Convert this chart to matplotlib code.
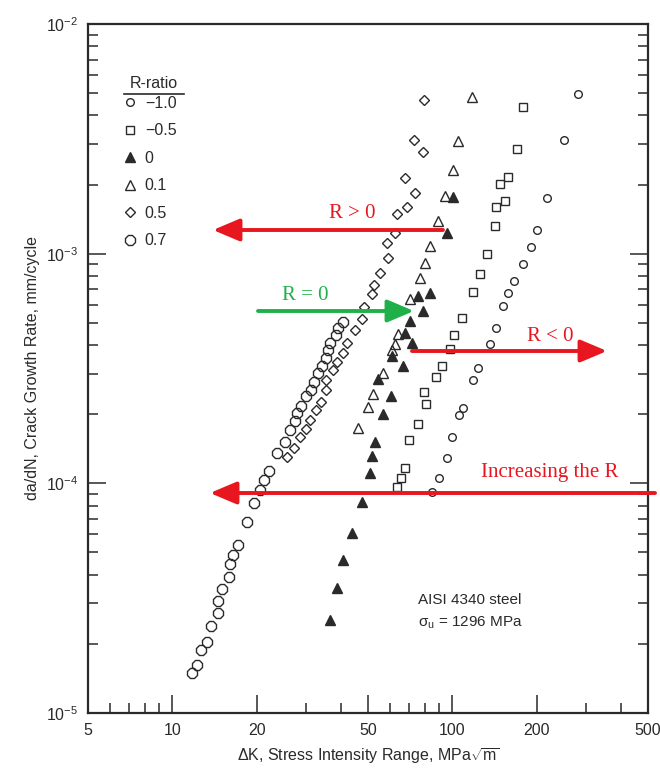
import matplotlib
matplotlib.use("Agg")
import matplotlib.pyplot as plt
from matplotlib.lines import Line2D
from matplotlib.ticker import LogLocator, FixedLocator, FixedFormatter, NullFormatter

plt.rcParams['font.family'] = ['Liberation Sans', 'DejaVu Sans']
plt.rcParams['mathtext.fontset'] = 'custom'
plt.rcParams['mathtext.rm'] = 'Liberation Sans'
plt.rcParams['mathtext.it'] = 'Liberation Sans:italic'

# R = -1.0 (small circles)
dk_m10 = [84.8, 89.9, 96.0, 100.0, 105.9, 109.5, 118.9, 123.8, 136.7, 143.6, 152.1,
          158.5, 166.5, 179.3, 191.5, 201.2, 218.4, 251.2, 281.8]
da_m10 = [9.14e-5, 1.06e-4, 1.29e-4, 1.59e-4, 1.98e-4, 2.12e-4, 2.81e-4, 3.19e-4, 4.06e-4,
          4.77e-4, 5.94e-4, 6.77e-4, 7.63e-4, 9.05e-4, 1.07e-3, 1.27e-3, 1.75e-3, 3.13e-3, 4.96e-3]

# R = -0.5 (squares)
dk_m05 = [63.6, 65.7, 67.9, 70.2, 75.6, 80.8, 79.4, 87.7, 92.1, 98.4, 101.7, 108.6,
          118.9, 125.9, 133.4, 142.4, 143.6, 154.6, 148.4, 158.5, 170.7, 179.3]
da_m05 = [9.61e-5, 1.06e-4, 1.17e-4, 1.55e-4, 1.82e-4, 2.21e-4, 2.49e-4, 2.89e-4, 3.23e-4,
          3.83e-4, 4.44e-4, 5.27e-4, 6.84e-4, 8.19e-4, 1.0e-3, 1.32e-3, 1.59e-3, 1.70e-3,
          2.02e-3, 2.16e-3, 2.86e-3, 4.36e-3]

# R = 0 (filled triangles)
dk_r0 = [36.7, 38.9, 40.8, 43.9, 47.7, 51.0, 51.8, 53.1, 54.4, 56.7, 60.6, 61.1, 66.8,
         67.9, 72.0, 70.8, 75.6, 78.8, 83.5, 96.0, 100.8]
da_r0 = [2.54e-5, 3.49e-5, 4.63e-5, 6.06e-5, 8.26e-5, 1.11e-4, 1.32e-4, 1.51e-4, 2.86e-4,
         2.0e-4, 2.41e-4, 3.60e-4, 3.23e-4, 4.53e-4, 4.10e-4, 5.11e-4, 6.57e-4, 5.65e-4,
         6.77e-4, 1.23e-3, 1.77e-3]

# R = 0.1 (open triangles)
dk_r01 = [46.2, 50.1, 52.2, 56.7, 61.1, 62.6, 64.2, 70.8, 76.9, 80.1, 83.5, 89.1, 94.4,
          100.8, 105.1, 117.9]
da_r01 = [1.75e-4, 2.16e-4, 2.46e-4, 3.01e-4, 3.79e-4, 4.06e-4, 4.49e-4, 6.37e-4, 7.87e-4,
          9.14e-4, 1.08e-3, 1.39e-3, 1.79e-3, 2.32e-3, 3.10e-3, 4.81e-3]

# R = 0.5 (diamonds)
dk_r05 = [25.7, 27.1, 28.7, 30.1, 31.1, 32.7, 34.1, 35.5, 35.5, 37.6, 38.9, 40.8, 42.2,
          45.0, 47.7, 48.5, 51.8, 52.7, 55.3, 59.1, 58.6, 62.6, 63.6, 69.1, 73.8, 67.9,
          78.8, 73.2, 79.4]
da_r05 = [1.30e-4, 1.42e-4, 1.59e-4, 1.73e-4, 1.88e-4, 2.08e-4, 2.25e-4, 2.54e-4, 2.81e-4,
          3.10e-4, 3.36e-4, 3.71e-4, 4.10e-4, 4.63e-4, 5.22e-4, 5.88e-4, 6.70e-4, 7.33e-4,
          8.27e-4, 9.61e-4, 1.11e-3, 1.23e-3, 1.49e-3, 1.60e-3, 1.84e-3, 2.14e-3, 2.78e-3,
          3.13e-3, 4.67e-3]

# R = 0.7 (large circles)
dk_r07 = [11.8, 12.3, 12.7, 13.3, 13.8, 14.6, 14.6, 15.0, 16.0, 16.1, 16.5, 17.2, 18.5,
          19.6, 20.6, 21.3, 22.2, 23.7, 25.3, 26.4, 27.5, 28.0, 28.9, 30.1, 31.4, 32.2,
          33.2, 34.3, 35.5, 36.1, 36.7, 38.5, 39.2, 40.8]
da_r07 = [1.49e-5, 1.62e-5, 1.88e-5, 2.04e-5, 2.39e-5, 2.72e-5, 3.07e-5, 3.46e-5, 3.90e-5,
          4.45e-5, 4.86e-5, 5.37e-5, 6.76e-5, 8.18e-5, 9.33e-5, 1.03e-4, 1.13e-4, 1.36e-4,
          1.52e-4, 1.70e-4, 1.86e-4, 2.02e-4, 2.18e-4, 2.39e-4, 2.56e-4, 2.75e-4, 3.01e-4,
          3.23e-4, 3.53e-4, 3.79e-4, 4.10e-4, 4.44e-4, 4.77e-4, 5.06e-4]

x_ticks = [5, 10, 20, 50, 100, 200, 500]
x_minor = [6, 7, 8, 9, 30, 40, 60, 70, 80, 90, 300, 400]

ink = '#2a2a2a'
red = '#e8161e'
green = '#1fb04a'

fig = plt.figure(figsize=(6.6, 7.75), dpi=100)
ax = fig.add_axes([88 / 660, 62 / 775, 560 / 660, 689 / 775])

series = [
    (dk_m10, da_m10, 'o', 5.5, 'none', '\u22121.0'),
    (dk_m05, da_m05, 's', 5.5, 'none', '\u22120.5'),
    (dk_r0, da_r0, '^', 6.5, ink, '0'),
    (dk_r01, da_r01, '^', 6.5, 'none', '0.1'),
    (dk_r05, da_r05, 'D', 5.0, 'none', '0.5'),
    (dk_r07, da_r07, '8', 8.0, 'none', '0.7'),
]
handles = []
for dk, da, mk, ms, fc, lab in series:
    h, = ax.plot(dk, da, linestyle='none', marker=mk, markersize=ms,
                 markerfacecolor=fc, markeredgecolor=ink, markeredgewidth=1.0,
                 label=lab)
    handles.append(h)

ax.set_xscale('log')
ax.set_yscale('log')
ax.set_xlim(5, 500)
ax.set_ylim(1e-5, 1e-2)

ax.xaxis.set_major_locator(FixedLocator(x_ticks))
ax.xaxis.set_major_formatter(FixedFormatter([str(v) for v in x_ticks]))
ax.xaxis.set_minor_locator(FixedLocator(x_minor))
ax.xaxis.set_minor_formatter(NullFormatter())
ax.yaxis.set_major_locator(LogLocator(base=10))
ax.yaxis.set_minor_locator(LogLocator(base=10, subs=range(2, 10)))
ax.yaxis.set_minor_formatter(NullFormatter())

ax.tick_params(which='both', direction='in', colors=ink, labelsize=11.5,
               right=True, top=False, width=1.1)
ax.tick_params(which='major', length=13, pad=7)
ax.tick_params(which='minor', length=7)
ax.tick_params(axis='y', which='both', labelright=False)
for side in ['left', 'right', 'top', 'bottom']:
    ax.spines[side].set_linewidth(1.6)
    ax.spines[side].set_color(ink)

ax.set_xlabel('\u0394K, Stress Intensity Range, MPa$\\sqrt{\\mathrm{m}}$',
              fontsize=11.5, color=ink, labelpad=6)
ax.set_ylabel('da/dN, Crack Growth Rate, mm/cycle', fontsize=11.5, color=ink, labelpad=4)

# legend with underlined title
leg = ax.legend(handles=handles, loc='upper left', bbox_to_anchor=(0.05, 0.905),
                frameon=False, fontsize=11.5, labelspacing=0.78, handlelength=0.9,
                handletextpad=0.5, borderaxespad=0)
for t in leg.get_texts():
    t.set_color(ink)


def fx(px):
    return px / 660


def fy(py):
    return 1 - py / 775


fig.text(fx(154), fy(84), 'R-ratio', ha='center', va='center', fontsize=11.5, color=ink)
fig.add_artist(Line2D([fx(124), fx(184)], [fy(94), fy(94)], color=ink, lw=1.2))

# material annotation
fig.text(fx(418), fy(600), 'AISI 4340 steel', ha='left', va='center', fontsize=11, color=ink)
fig.text(fx(418), fy(623), '\u03c3$_\\mathrm{u}$ = 1296 MPa', ha='left', va='center',
         fontsize=11, color=ink)

# red / green arrows with labels
arrows = [
    ((443, 230), (213, 230), red, 'R > 0', (352, 213)),
    ((258, 311), (414, 311), green, 'R = 0', (305, 296)),
    ((412, 351), (607, 351), red, 'R < 0', (550, 336)),
    ((655, 493), (210, 493), red, 'Increasing the R', (550, 473)),
]
for (x0, y0), (x1, y1), col, txt, (tx, ty) in arrows:
    ax.annotate('', xy=(fx(x1), fy(y1)), xytext=(fx(x0), fy(y0)),
                xycoords='figure fraction', textcoords='figure fraction',
                arrowprops=dict(arrowstyle='-|>,head_length=0.9,head_width=0.38',
                                color=col, lw=2.8, mutation_scale=18,
                                shrinkA=0, shrinkB=0),
                annotation_clip=False)
    fig.text(fx(tx), fy(ty), txt, ha='center', va='center', fontsize=15,
             color=col, family='Liberation Serif')

fig.savefig('out.png', dpi=100, facecolor='white')
